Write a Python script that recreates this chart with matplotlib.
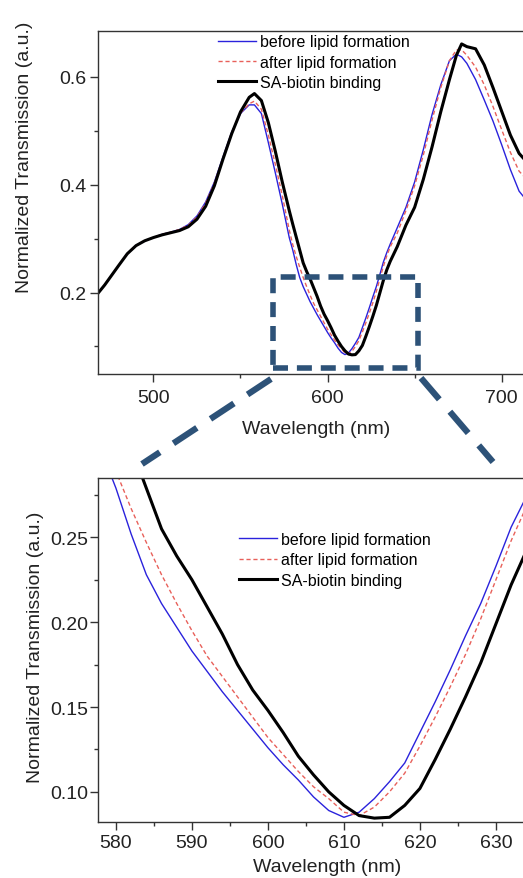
import numpy as np
import matplotlib
matplotlib.use('Agg')
import matplotlib.pyplot as plt
from matplotlib.lines import Line2D
from matplotlib.patches import Rectangle
from matplotlib.ticker import MultipleLocator

plt.rcParams['font.family'] = ['Liberation Sans', 'DejaVu Sans']

# wavelength grid (nm), finer around the dip
wavelength = [468, 472, 476, 480, 485, 490, 495, 500, 505, 510, 515, 520, 525, 530,
              535, 540, 545, 550, 555, 558, 562, 566, 570, 574,
              578, 580, 582, 584, 586, 588, 590, 592, 594, 596, 598, 600, 602, 604,
              606, 608, 610, 612, 614, 616, 618, 620, 622, 624, 626, 628, 630, 632,
              634, 636, 640, 645, 650, 655, 660, 665, 670, 674, 677, 680, 685, 690,
              695, 700, 705, 710, 715]

before_lipid = [0.198, 0.214, 0.232, 0.250, 0.272, 0.287, 0.296, 0.302, 0.308, 0.312, 0.317, 0.326, 0.342, 0.368,
                0.405, 0.452, 0.498, 0.532, 0.548, 0.548, 0.532, 0.478, 0.422, 0.364,
                0.302, 0.279, 0.252, 0.228, 0.211, 0.197, 0.183, 0.171, 0.159, 0.148, 0.137, 0.126, 0.116, 0.107,
                0.097, 0.089, 0.085, 0.088, 0.096, 0.106, 0.117, 0.135, 0.153, 0.172, 0.192, 0.211, 0.233, 0.256,
                0.274, 0.290, 0.320, 0.358, 0.405, 0.465, 0.530, 0.585, 0.630, 0.642, 0.637, 0.625, 0.595, 0.557,
                0.518, 0.474, 0.428, 0.388, 0.368]

after_lipid = [0.198, 0.214, 0.232, 0.250, 0.272, 0.287, 0.296, 0.302, 0.308, 0.312, 0.317, 0.325, 0.340, 0.366,
               0.403, 0.450, 0.497, 0.533, 0.550, 0.555, 0.540, 0.492, 0.438, 0.380,
               0.316, 0.289, 0.267, 0.247, 0.228, 0.211, 0.195, 0.180, 0.168, 0.156, 0.144, 0.132, 0.122, 0.112,
               0.103, 0.096, 0.088, 0.086, 0.091, 0.100, 0.111, 0.127, 0.144, 0.162, 0.181, 0.202, 0.225, 0.248,
               0.268, 0.285, 0.310, 0.352, 0.398, 0.455, 0.520, 0.580, 0.630, 0.650, 0.650, 0.640, 0.618, 0.585,
               0.545, 0.502, 0.460, 0.425, 0.408]

sa_biotin = [0.198, 0.214, 0.232, 0.250, 0.272, 0.287, 0.296, 0.302, 0.307, 0.311, 0.315, 0.322, 0.336, 0.360,
             0.398, 0.448, 0.495, 0.535, 0.562, 0.569, 0.556, 0.515, 0.462, 0.405,
             0.352, 0.327, 0.303, 0.279, 0.255, 0.239, 0.225, 0.209, 0.193, 0.175, 0.160, 0.148, 0.135, 0.121,
             0.110, 0.100, 0.092, 0.086, 0.0845, 0.085, 0.092, 0.102, 0.119, 0.137, 0.156, 0.176, 0.199, 0.222,
             0.242, 0.258, 0.285, 0.325, 0.358, 0.410, 0.470, 0.535, 0.595, 0.640, 0.661, 0.656, 0.652, 0.622,
             0.580, 0.536, 0.492, 0.458, 0.440]

labels = ['before lipid formation', 'after lipid formation', 'SA-biotin binding']
colors = ['#2a22dc', '#e8605a', '#000000']

W, H = 523, 879
fig = plt.figure(figsize=(W / 100, H / 100), dpi=100)


def fx(px):
    return px / W


def fy(py):
    return 1 - py / H


ax1 = fig.add_axes([fx(97.7), fy(375), fx(540) - fx(97.7), fy(32) - fy(375)])
ax2 = fig.add_axes([fx(97.7), fy(822.7), fx(540) - fx(97.7), fy(479) - fy(822.7)])

for ax in (ax1, ax2):
    ax.plot(wavelength, before_lipid, color=colors[0], lw=1.0, label=labels[0])
    ax.plot(wavelength, after_lipid, color=colors[1], lw=1.0, dashes=(3, 2), label=labels[1])
    ax.plot(wavelength, sa_biotin, color=colors[2], lw=2.2, label=labels[2])
    for s in ax.spines.values():
        s.set_linewidth(1.0)
        s.set_color('#333333')
    ax.tick_params(which='major', direction='out', length=6, width=1.0, labelsize=14,
                   colors='#333333', labelcolor='#222222')
    ax.tick_params(which='minor', direction='out', length=3, width=1.0, colors='#333333')
    ax.tick_params(axis='y', pad=2)
    ax.set_xlabel('Wavelength (nm)', fontsize=14, color='#222222')
    ax.set_ylabel('Normalized Transmission (a.u.)', fontsize=14, color='#222222')

# overview
ax1.set_xlim(468, 722)
ax1.set_ylim(0.049, 0.685)
ax1.xaxis.set_major_locator(MultipleLocator(100))
ax1.xaxis.set_minor_locator(MultipleLocator(50))
ax1.yaxis.set_major_locator(MultipleLocator(0.2))
ax1.yaxis.set_minor_locator(MultipleLocator(0.1))
ax1.yaxis.set_major_formatter(plt.FormatStrFormatter('%.1f'))
ax1.tick_params(axis='x', pad=5)
ax1.xaxis.set_label_coords(0.494, -0.135)
ax1.yaxis.set_label_coords(-0.146, 0.636)
ax1.legend(loc='upper left', bbox_to_anchor=(0.272, 0.99), frameon=False, fontsize=11.5,
           handlelength=2.4, handletextpad=0.2, labelspacing=0.33, borderpad=0, borderaxespad=0)

# zoom of the dip
ax2.set_xlim(577.6, 635.8)
ax2.set_ylim(0.0824, 0.285)
ax2.xaxis.set_major_locator(MultipleLocator(10))
ax2.xaxis.set_minor_locator(MultipleLocator(5))
ax2.yaxis.set_major_locator(MultipleLocator(0.05))
ax2.yaxis.set_minor_locator(MultipleLocator(0.025))
ax2.yaxis.set_major_formatter(plt.FormatStrFormatter('%.2f'))
ax2.tick_params(axis='x', pad=3)
ax2.tick_params(axis='y', pad=0.5)
ax2.xaxis.set_label_coords(0.518, -0.105)
ax2.yaxis.set_label_coords(-0.121, 0.511)
ax2.legend(loc='upper left', bbox_to_anchor=(0.3195, 0.843), frameon=False, fontsize=11.5,
           handlelength=2.4, handletextpad=0.2, labelspacing=0.33, borderpad=0, borderaxespad=0)

# dashed zoom box and connectors
box_color = '#2d5278'
ax1.add_patch(Rectangle((568.4, 0.060), 651.7 - 568.4, 0.228 - 0.060, fill=False,
                        edgecolor=box_color, lw=4, linestyle=(0, (2.7, 1.6)), clip_on=False, zorder=5))
fig.add_artist(Line2D([fx(271), fx(142)], [fy(380), fy(465)], transform=fig.transFigure,
                      color=box_color, lw=4.5, linestyle=(0, (4.5, 2.6))))
fig.add_artist(Line2D([fx(421), fx(493)], [fy(379), fy(463)], transform=fig.transFigure,
                      color=box_color, lw=4.5, linestyle=(0, (4.5, 2.6))))

fig.savefig('out.png', dpi=100)
